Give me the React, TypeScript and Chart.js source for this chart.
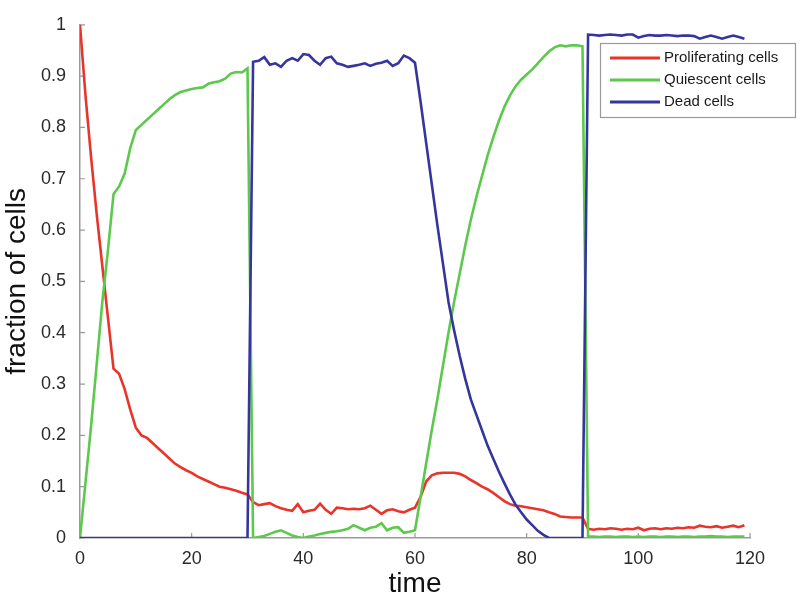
import React, { useEffect, useRef } from "react";
import { Chart, registerables } from "chart.js";

Chart.register(...registerables);

const TIME: number[] = Array.from({ length: 120 }, (_, i) => i);

const PROLIFERATING: number[] = [
  1.0, 0.86, 0.74, 0.63, 0.53, 0.43, 0.33, 0.32, 0.29, 0.25,
  0.215, 0.2, 0.195, 0.185, 0.175, 0.165, 0.155, 0.145, 0.138, 0.132,
  0.127, 0.12, 0.115, 0.11, 0.105, 0.1, 0.098, 0.095, 0.092, 0.088,
  0.085, 0.07, 0.064, 0.066, 0.068, 0.062, 0.058, 0.055, 0.053, 0.066,
  0.05, 0.053, 0.055, 0.067, 0.055, 0.047, 0.059, 0.058, 0.056, 0.057,
  0.056, 0.058, 0.063, 0.055, 0.047, 0.054, 0.056, 0.052, 0.05, 0.055,
  0.059, 0.08, 0.11, 0.122, 0.126, 0.127, 0.127, 0.127, 0.125, 0.12,
  0.113, 0.107, 0.1, 0.095, 0.088, 0.08, 0.072, 0.066, 0.063, 0.062,
  0.06, 0.058, 0.056, 0.054, 0.05, 0.047, 0.042, 0.041, 0.04, 0.04,
  0.04, 0.018, 0.016, 0.018, 0.017, 0.019, 0.018, 0.016, 0.018, 0.017,
  0.02, 0.015, 0.018, 0.019, 0.017, 0.019, 0.018, 0.02, 0.019, 0.021,
  0.02, 0.024, 0.022, 0.021, 0.023, 0.02, 0.022, 0.024, 0.021, 0.025,
];

const QUIESCENT: number[] = [
  0, 0.11, 0.22, 0.34, 0.46, 0.56, 0.67, 0.685, 0.71, 0.76,
  0.795, 0.805, 0.815, 0.825, 0.835, 0.845, 0.855, 0.863, 0.869, 0.872,
  0.875, 0.877, 0.878, 0.885, 0.888, 0.89, 0.895, 0.905, 0.908, 0.907,
  0.915, 0, 0.002, 0.004, 0.008, 0.012, 0.015, 0.01, 0.005, 0.002,
  0, 0.003, 0.005, 0.008, 0.01, 0.012, 0.013, 0.015, 0.018, 0.025,
  0.02, 0.015, 0.02, 0.022, 0.029, 0.015, 0.02, 0.021, 0.01, 0.012,
  0.015, 0.08, 0.145, 0.21, 0.27, 0.335, 0.4, 0.46, 0.515, 0.57,
  0.62, 0.665, 0.705, 0.745, 0.78, 0.812, 0.84, 0.862, 0.88, 0.893,
  0.903, 0.913, 0.925, 0.937, 0.948, 0.956, 0.96, 0.958, 0.96, 0.96,
  0.958, 0.003, 0.003, 0.002, 0.003, 0.003, 0.002, 0.003, 0.003, 0.002,
  0.003, 0.002, 0.003, 0.003, 0.002, 0.003, 0.003, 0.002, 0.003, 0.003,
  0.002, 0.003, 0.003, 0.004, 0.003, 0.003, 0.002, 0.003, 0.003, 0.003,
];

const DEAD: number[] = [
  0, 0, 0, 0, 0, 0, 0, 0, 0, 0,
  0, 0, 0, 0, 0, 0, 0, 0, 0, 0,
  0, 0, 0, 0, 0, 0, 0, 0, 0, 0,
  0, 0.928, 0.93, 0.937, 0.922, 0.925, 0.918, 0.93, 0.935, 0.93,
  0.943, 0.941, 0.93, 0.922, 0.935, 0.938, 0.925, 0.922, 0.918, 0.92,
  0.922, 0.925, 0.92, 0.924, 0.926, 0.93, 0.92, 0.925, 0.94, 0.935,
  0.926, 0.85, 0.77, 0.69, 0.61, 0.535, 0.46, 0.405, 0.355, 0.31,
  0.27, 0.24, 0.21, 0.18, 0.155, 0.13, 0.107, 0.085, 0.065, 0.05,
  0.036, 0.025, 0.014, 0.006, 0, 0, 0, 0, 0, 0,
  0, 0.981, 0.98, 0.979, 0.98, 0.981, 0.98, 0.979, 0.981, 0.981,
  0.975, 0.978, 0.98, 0.979, 0.979, 0.98, 0.979, 0.978, 0.979, 0.979,
  0.978, 0.973, 0.976, 0.979, 0.976, 0.973, 0.976, 0.979, 0.976, 0.973,
];

const X_TICKS = [0, 20, 40, 60, 80, 100, 120];

const SERIES_LABELS = ["Proliferating cells", "Quiescent cells", "Dead cells"];
const SERIES_COLORS = ["#e8352b", "#5cc94c", "#35359e"];

const FONT = "'Liberation Sans', Arial, Helvetica, sans-serif";

const innerTicks = {
  id: "innerTicks",
  beforeDatasetsDraw(chart: any) {
    const { ctx, chartArea } = chart;
    const xs = chart.scales.x;
    const ys = chart.scales.y;
    ctx.save();
    ctx.strokeStyle = "#9a9a9a";
    ctx.lineWidth = 1.2;
    ctx.beginPath();
    xs.ticks.forEach((t: any) => {
      const px = xs.getPixelForValue(t.value);
      ctx.moveTo(px, chartArea.bottom);
      ctx.lineTo(px, chartArea.bottom - 5);
    });
    ys.ticks.forEach((t: any) => {
      const py = ys.getPixelForValue(t.value);
      ctx.moveTo(chartArea.left, py);
      ctx.lineTo(chartArea.left + 5, py);
    });
    ctx.stroke();
    ctx.restore();
  },
};

const boxLegend = {
  id: "boxLegend",
  afterDraw(chart: any) {
    const { ctx } = chart;
    const x0 = 600;
    const y0 = 43;
    const w = 195;
    const h = 74;
    ctx.save();
    ctx.fillStyle = "#ffffff";
    ctx.fillRect(x0, y0, w, h);
    ctx.strokeStyle = "#9a9a9a";
    ctx.lineWidth = 1.2;
    ctx.strokeRect(x0 + 0.5, y0 + 0.5, w, h);
    ctx.font = `15px ${FONT}`;
    ctx.textBaseline = "middle";
    chart.data.datasets.forEach((ds: any, i: number) => {
      const cy = y0 + 15 + i * 22;
      ctx.strokeStyle = ds.borderColor;
      ctx.lineWidth = 3;
      ctx.beginPath();
      ctx.moveTo(x0 + 10, cy);
      ctx.lineTo(x0 + 60, cy);
      ctx.stroke();
      ctx.fillStyle = "#1a1a1a";
      ctx.fillText(ds.label, x0 + 64, cy);
    });
    ctx.restore();
  },
};

export default function App() {
  const canvasRef = useRef<HTMLCanvasElement | null>(null);

  useEffect(() => {
    document.body.style.margin = "0";
    const canvas = canvasRef.current;
    if (!canvas) return;
    const series = [PROLIFERATING, QUIESCENT, DEAD];
    const chart = new Chart(canvas, {
      type: "line",
      data: {
        datasets: series.map((vals, i) => ({
          label: SERIES_LABELS[i],
          data: TIME.map((t, j) => ({ x: t, y: vals[j] })),
          borderColor: SERIES_COLORS[i],
          backgroundColor: SERIES_COLORS[i],
          borderWidth: 2.6,
          pointRadius: 0,
          tension: 0,
          fill: false,
          order: 3 - i,
        })),
      },
      options: {
        animation: false,
        responsive: false,
        maintainAspectRatio: false,
        layout: { padding: { top: 12, right: 50, left: 0, bottom: 0 } },
        plugins: {
          legend: { display: false },
          tooltip: { enabled: false },
        },
        scales: {
          x: {
            type: "linear",
            min: 0,
            max: 120,
            afterBuildTicks: (scale: any) => {
              scale.ticks = X_TICKS.map((v) => ({ value: v }));
            },
            ticks: {
              font: { size: 18, family: FONT },
              color: "#2a2a2a",
              padding: 10,
              maxRotation: 0,
            },
            grid: { display: false, drawTicks: false },
            border: { display: true, color: "#9a9a9a", width: 1.5 },
            title: {
              display: true,
              text: "time",
              font: { size: 28, family: FONT },
              color: "#111111",
              padding: { top: 0, bottom: 3 },
            },
            afterFit: (scale: any) => {
              scale.height = 66;
            },
          },
          y: {
            type: "linear",
            min: 0,
            max: 1,
            ticks: {
              stepSize: 0.1,
              font: { size: 18, family: FONT },
              color: "#2a2a2a",
              padding: 14,
              callback: (v: any) => String(Number(Number(v).toFixed(1))),
            },
            grid: { display: false, drawTicks: false },
            border: { display: true, color: "#9a9a9a", width: 1.5 },
            title: {
              display: true,
              text: "fraction of cells",
              font: { size: 28, family: FONT },
              color: "#111111",
              padding: { top: 0, bottom: 0 },
            },
            afterFit: (scale: any) => {
              scale.width = 80;
            },
          },
        },
      },
      plugins: [innerTicks, boxLegend],
    });
    return () => chart.destroy();
  }, []);

  return (
    <div style={{ position: "absolute", left: 0, top: 0, width: 800, height: 604 }}>
      <canvas ref={canvasRef} width={800} height={604} style={{ display: "block" }} />
    </div>
  );
}
